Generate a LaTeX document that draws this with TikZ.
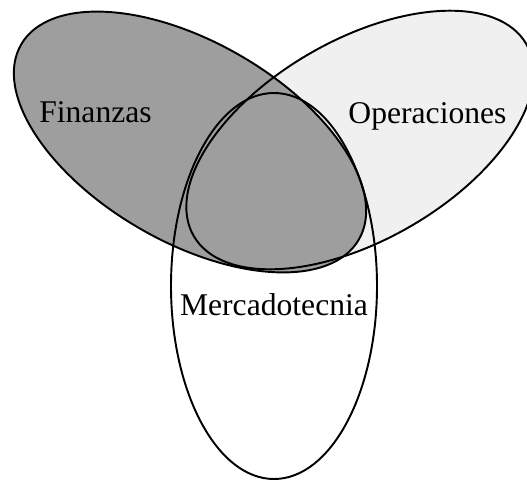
\documentclass[tikz,border=0pt]{standalone}
\usepackage{fontspec}
\setmainfont{Liberation Serif}
\definecolor{fingray}{gray}{0.62}
\definecolor{opgray}{gray}{0.94}

\begin{document}
\begin{tikzpicture}[x=0.02cm, y=0.02cm, every node/.style={font=\fontsize{18}{20}\selectfont, inner sep=0pt},
    area/.style={line width=1.1pt}]
  \useasboundingbox (0,0) rectangle (527,481);
  % shaded areas
  \fill[opgray, rotate around={30:(360,341)}] (360,341) ellipse (192 and 100);
  \fill[fingray, rotate around={-30:(190,339)}] (190,339) ellipse (195 and 100);
  % outlines
  \draw[area, rotate around={30:(360,341)}] (360,341) ellipse (192 and 100);
  \draw[area, rotate around={-30:(190,339)}] (190,339) ellipse (195 and 100);
  \draw[area] (274,195) ellipse (103 and 193);
  \node[anchor=base] (finanzas) at (95.5,359) {Finanzas};
  \node[anchor=base] (operaciones) at (427.5,358) {Operaciones};
  \node[anchor=base] (mercado) at (274,166) {Mercadotecnia};
\end{tikzpicture}
\end{document}
